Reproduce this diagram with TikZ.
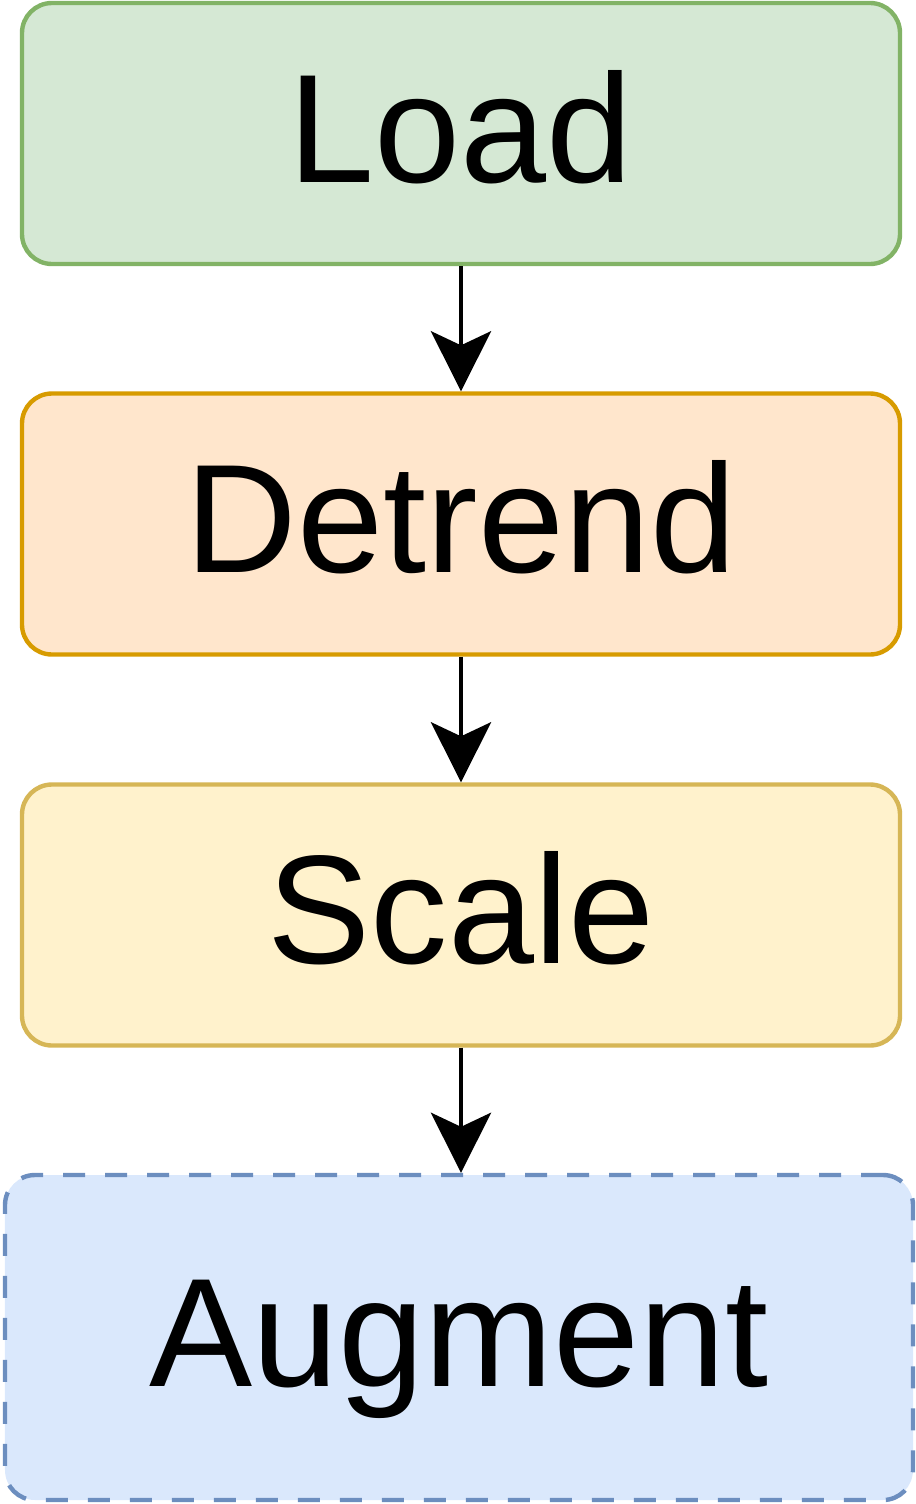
\documentclass[tikz,border=0pt]{standalone}
\usepackage{fontspec}
\setmainfont{Liberation Sans}
\usetikzlibrary{arrows.meta}

\definecolor{loadfill}{HTML}{D5E8D4}\definecolor{loaddraw}{HTML}{82B366}
\definecolor{detrfill}{HTML}{FFE6CC}\definecolor{detrdraw}{HTML}{D79B00}
\definecolor{scalfill}{HTML}{FFF2CC}\definecolor{scaldraw}{HTML}{D6B656}
\definecolor{augmfill}{HTML}{DAE8FC}\definecolor{augmdraw}{HTML}{6C8EBF}

\begin{document}
\begin{tikzpicture}[
    stage/.style = {rectangle, rounded corners=0.3cm, line width=1.25pt,
                    minimum width=8.78cm, minimum height=2.61cm, inner sep=0pt,
                    text height=1.15cm, text depth=0.18cm,
                    font=\fontsize{44}{53}\selectfont},
    flow/.style  = {line width=1.4pt,
                    -{Stealth[length=0.6cm, width=0.6cm, inset=0.14cm]}},
  ]

  % ---------- page size ----------
  \useasboundingbox (0,0) rectangle (9.15,-15.04);

  % ---------- stages ----------
  \node[stage, fill=loadfill, draw=loaddraw] (load)    at (4.61,-1.335) {Load};
  \node[stage, fill=detrfill, draw=detrdraw] (detrend) at (4.61,-5.24)  {Detrend};
  \node[stage, fill=scalfill, draw=scaldraw] (scale)   at (4.61,-9.15)  {Scale};
  \node[stage, fill=augmfill, draw=augmdraw, dash pattern=on 0.22cm off 0.2cm,
        minimum width=9.08cm, minimum height=3.25cm] (augment) at (4.59,-13.375) {Augment};

  % ---------- arrows ----------
  \draw[flow] (load)    -- (detrend);
  \draw[flow] (detrend) -- (scale);
  \draw[flow] (scale)   -- (scale |- augment.north);

\end{tikzpicture}
\end{document}
